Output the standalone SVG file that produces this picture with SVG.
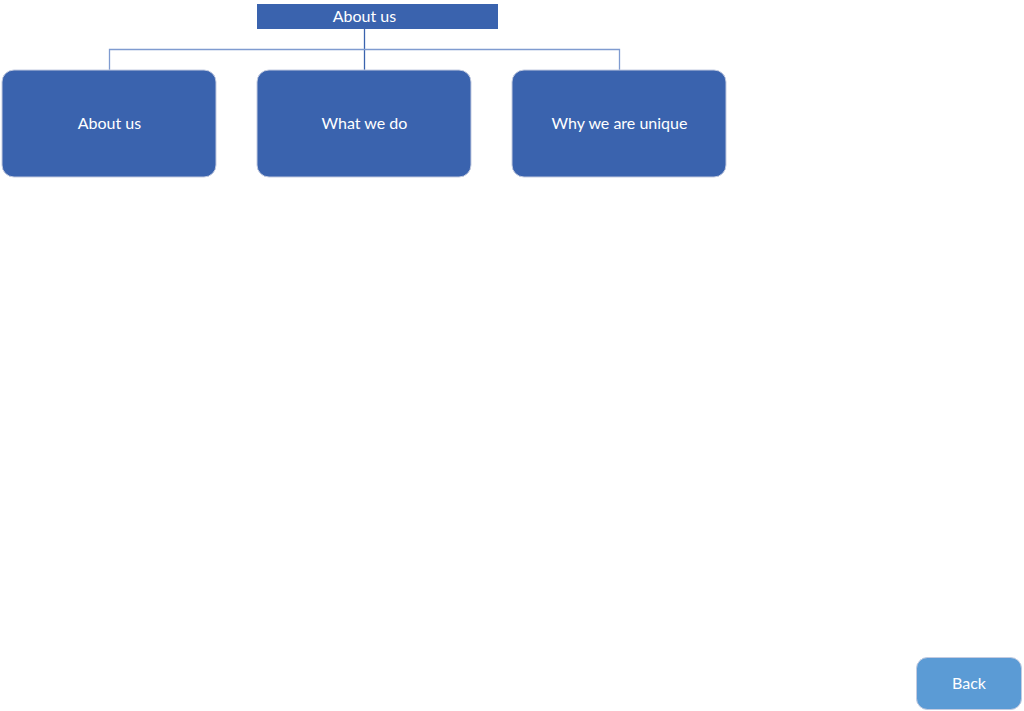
<svg xmlns="http://www.w3.org/2000/svg" width="1024" height="711" viewBox="0 0 1024 711">
  <style>
    .lbl { font-family: Lato, "Open Sans", "Liberation Sans", sans-serif; font-size: 16px; fill: #ffffff; text-anchor: middle; dominant-baseline: central; }
    .node { fill: #3a63ae; stroke: #c3cbe0; stroke-width: 1; }
    .wire { stroke: #7f9bd0; stroke-width: 1.3; fill: none; }
  </style>
  <rect width="1024" height="711" fill="#ffffff"/>
  <g id="connectors">
    <line class="wire" x1="364.5" y1="29" x2="364.5" y2="70" style="stroke:#3a63ae"/>
    <polyline class="wire" points="109.5,70 109.5,49.5 619.5,49.5 619.5,70"/>
  </g>
  <g id="title">
    <rect x="257" y="4" width="241" height="25" fill="#3a63ae"/>
    <text class="lbl" x="364.5" y="15.5">About us</text>
  </g>
  <g id="about">
    <rect class="node" x="2" y="70" width="214" height="107" rx="12"/>
    <text class="lbl" x="109.5" y="122.5">About us</text>
  </g>
  <g id="what">
    <rect class="node" x="257" y="70" width="214" height="107" rx="12"/>
    <text class="lbl" x="364.5" y="122.5">What we do</text>
  </g>
  <g id="unique">
    <rect class="node" x="512" y="70" width="214" height="107" rx="12"/>
    <text class="lbl" x="619.5" y="122.5">Why we are unique</text>
  </g>
  <g id="back">
    <rect x="916.5" y="657.5" width="105" height="52" rx="11" fill="#5b9bd5" stroke="#c3cbe0"/>
    <text class="lbl" x="969" y="682.5">Back</text>
  </g>
</svg>
